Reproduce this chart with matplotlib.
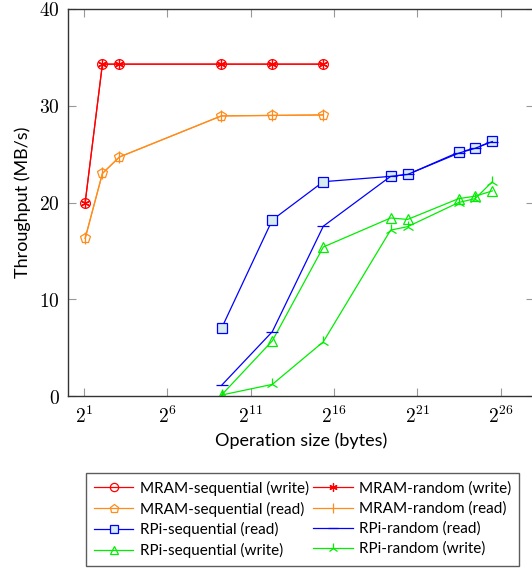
import matplotlib
matplotlib.use("Agg")
import matplotlib.pyplot as plt

plt.rcParams['mathtext.fontset'] = 'cm'
plt.rcParams['font.family'] = ['Lato', 'DejaVu Sans']

# Operation sizes (bytes)
mram_x = [2.1, 4.3, 8.7, 605, 5040, 42000]
rpi_x = [610, 5040, 42000, 690000, 1400000, 11700000, 23200000, 47500000]

mram_seq_write = [20.0, 34.3, 34.3, 34.3, 34.3, 34.3]
mram_rand_write = [20.0, 34.3, 34.3, 34.3, 34.3, 34.3]
mram_seq_read = [16.3, 23.0, 24.7, 28.95, 29.0, 29.05]
mram_rand_read = [16.3, 23.0, 24.7, 28.95, 29.0, 29.05]
rpi_seq_read = [7.0, 18.2, 22.15, 22.7, 22.9, 25.2, 25.6, 26.35]
rpi_rand_read = [1.1, 6.65, 17.55, 22.7, 22.9, 25.1, 25.6, 26.3]
rpi_seq_write = [0.1, 5.7, 15.4, 18.4, 18.25, 20.4, 20.65, 21.2]
rpi_rand_write = [0.1, 1.2, 5.6, 17.15, 17.5, 20.0, 20.4, 22.15]

RED = '#ff0000'
ORANGE = '#ff8c1a'
BLUE = '#0000ff'
GREEN = '#00ee00'
SQFILL = '#d6ecef'

fig = plt.figure(figsize=(5.32, 5.72), dpi=100)
ax = fig.add_axes([68/532, 1-396/572, (534-68)/532, (396-9)/572])

lw = 0.9
series = [
    (mram_x, mram_seq_write, RED, 'o', 'none', 7.0, 'MRAM-sequential (write)'),
    (mram_x, mram_seq_read, ORANGE, 'p', 'none', 7.5, 'MRAM-sequential (read)'),
    (rpi_x, rpi_seq_read, BLUE, 's', SQFILL, 7.0, 'RPi-sequential (read)'),
    (rpi_x, rpi_seq_write, GREEN, '^', 'none', 7.5, 'RPi-sequential (write)'),
    (mram_x, mram_rand_write, RED, (6, 2, 0), RED, 7.0, 'MRAM-random (write)'),
    (mram_x, mram_rand_read, ORANGE, '|', ORANGE, 8.0, 'MRAM-random (read)'),
    (rpi_x, rpi_rand_read, BLUE, '_', BLUE, 8.0, 'RPi-random (read)'),
    (rpi_x, rpi_rand_write, GREEN, '2', GREEN, 9.0, 'RPi-random (write)'),
]
handles = []
for x, y, c, m, fc, ms, lab in series:
    h, = ax.plot(x, y, color=c, lw=lw, marker=m, ms=ms, mfc=fc, mec=c,
                 mew=0.9, label=lab)
    handles.append(h)

ax.set_xscale('log', base=2)
ax.set_xlim(2**0.04, 2**28.0)
ax.set_ylim(0, 40)
ax.set_xticks([2**1, 2**6, 2**11, 2**16, 2**21, 2**26])
ax.set_xticklabels([r'$2^{1}$', r'$2^{6}$', r'$2^{11}$', r'$2^{16}$', r'$2^{21}$', r'$2^{26}$'])
ax.minorticks_off()
ax.set_yticks([0, 10, 20, 30, 40])
ax.set_yticklabels([r'$0$', r'$10$', r'$20$', r'$30$', r'$40$'])
ax.tick_params(direction='in', length=6, width=0.8, color='#999999',
               top=True, right=True, labelsize=14, pad=6)
for s in ax.spines.values():
    s.set_linewidth(1.0)
    s.set_color('#333333')

ax.set_xlabel('Operation size (bytes)', fontsize=13, labelpad=5)
ax.set_ylabel('Throughput (MB/s)', fontsize=13, labelpad=6)

leg = fig.legend(handles=handles, loc='center', ncol=2,
                 bbox_to_anchor=((87+518)/2/532, 1-(474+565)/2/572),
                 fontsize=11, frameon=True, fancybox=False, edgecolor='#333333',
                 handlelength=2.6, markerscale=0.85, columnspacing=0.3,
                 labelspacing=0.38, borderpad=0.5, handletextpad=0.4)
leg.get_frame().set_linewidth(1.0)

fig.savefig('out.png', dpi=100)
